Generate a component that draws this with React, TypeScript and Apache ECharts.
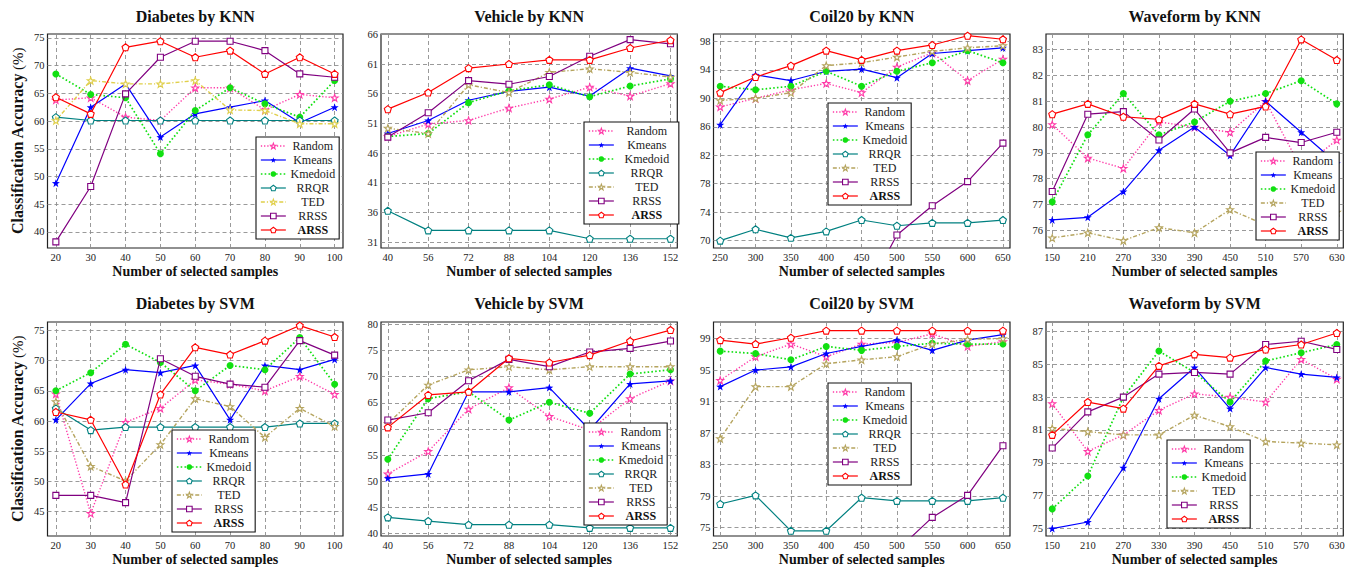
import React, { useEffect, useRef } from 'react';
import * as echarts from 'echarts';

const FONT = '"Liberation Serif", "Times New Roman", serif';

// ---------- categories / ticks ----------
const methods = ['Random', 'Kmeans', 'Kmedoid', 'RRQR', 'TED', 'RRSS', 'ARSS'];
const waveMethods = ['Random', 'Kmeans', 'Kmedoid', 'TED', 'RRSS', 'ARSS'];

const diabetesX = [20, 30, 40, 50, 60, 70, 80, 90, 100];
const vehicleX = [40, 56, 72, 88, 104, 120, 136, 152];
const coilX = [250, 300, 350, 400, 450, 500, 550, 600, 650];
const waveX = [150, 210, 270, 330, 390, 450, 510, 570, 630];

const diabetesKnnYTicks = [40, 45, 50, 55, 60, 65, 70, 75];
const vehicleKnnYTicks = [31, 36, 41, 46, 51, 56, 61, 66];
const coilKnnYTicks = [70, 74, 78, 82, 86, 90, 94, 98];
const waveKnnYTicks = [76, 77, 78, 79, 80, 81, 82, 83];
const diabetesSvmYTicks = [45, 50, 55, 60, 65, 70, 75];
const vehicleSvmYTicks = [40, 45, 50, 55, 60, 65, 70, 75, 80];
const coilSvmYTicks = [75, 79, 83, 87, 91, 95, 99];
const waveSvmYTicks = [75, 77, 79, 81, 83, 85, 87];

// ---------- Diabetes by KNN ----------
const diabetesKnnRandom = [63.8, 64.2, 60.7, 60.1, 66.0, 66.0, 62.0, 64.8, 64.2];
const diabetesKnnKmeans = [48.8, 62.5, 66.7, 57.1, 61.3, 62.5, 63.7, 59.7, 62.5];
const diabetesKnnKmedoid = [68.5, 64.8, 64.2, 54.1, 61.9, 66.0, 63.1, 60.7, 67.3];
const diabetesKnnRRQR = [60.7, 60.1, 60.1, 60.1, 60.1, 60.1, 60.1, 60.1, 60.1];
const diabetesKnnTED = [60.1, 67.3, 66.7, 66.7, 67.3, 62.0, 61.9, 59.5, 59.5];
const diabetesKnnRRSS = [38.2, 48.2, 64.9, 71.5, 74.4, 74.4, 72.7, 68.5, 67.9];
const diabetesKnnARSS = [64.3, 61.3, 73.3, 74.4, 71.5, 72.7, 68.5, 71.5, 68.5];

// ---------- Vehicle by KNN ----------
const vehicleKnnRandom = [48.8, 50.9, 51.5, 53.6, 55.1, 57.1, 55.6, 57.7];
const vehicleKnnKmeans = [49.3, 51.5, 54.9, 56.4, 57.1, 55.6, 60.3, 59.0];
const vehicleKnnKmedoid = [48.8, 49.3, 54.5, 56.5, 57.5, 55.5, 57.3, 58.5];
const vehicleKnnRRQR = [36.3, 33.0, 33.0, 33.0, 33.0, 31.6, 31.6, 31.6];
const vehicleKnnTED = [50.2, 49.3, 57.5, 56.2, 59.6, 60.2, 59.6, 58.8];
const vehicleKnnRRSS = [48.7, 52.8, 58.2, 57.6, 58.9, 62.3, 65.1, 64.4];
const vehicleKnnARSS = [53.4, 56.2, 60.3, 61.0, 61.7, 61.7, 63.7, 65.0];

// ---------- Coil20 by KNN ----------
const coilKnnRandom = [88.8, 90.0, 91.2, 92.1, 90.8, 94.4, 96.4, 92.5, 95.5];
const coilKnnKmeans = [86.3, 93.3, 92.5, 93.8, 94.1, 92.9, 96.3, 96.7, 97.1];
const coilKnnKmedoid = [91.7, 91.2, 91.7, 93.8, 91.7, 93.8, 95.0, 96.7, 95.0];
const coilKnnRRQR = [70.0, 71.6, 70.4, 71.3, 72.9, 72.1, 72.5, 72.5, 72.9];
const coilKnnTED = [89.7, 90.0, 90.8, 94.6, 95.0, 95.8, 96.6, 97.1, 97.4];
const coilKnnRRSS = [40.0, 45.0, 50.0, 55.0, 61.5, 70.8, 74.9, 78.3, 83.7];
const coilKnnARSS = [90.8, 93.0, 94.6, 96.7, 95.4, 96.7, 97.5, 98.8, 98.3];

// ---------- Waveform by KNN ----------
const waveKnnRandom = [80.1, 78.8, 78.4, 80.2, 80.0, 79.8, 81.0, 78.4, 79.5];
const waveKnnKmeans = [76.4, 76.5, 77.5, 79.1, 80.0, 78.9, 81.0, 79.8, 78.6];
const waveKnnKmedoid = [77.1, 79.7, 81.3, 79.7, 80.2, 81.0, 81.3, 81.8, 80.9];
const waveKnnTED = [75.7, 75.9, 75.6, 76.1, 75.9, 76.8, 76.2, 76.4, 76.7];
const waveKnnRRSS = [77.5, 80.5, 80.6, 79.5, 80.7, 79.0, 79.6, 79.4, 79.8];
const waveKnnARSS = [80.5, 80.9, 80.4, 80.3, 80.9, 80.5, 80.8, 83.4, 82.6];

// ---------- Diabetes by SVM ----------
const diabetesSvmRandom = [64.5, 44.7, 59.8, 62.1, 66.8, 66.1, 65.0, 67.4, 64.4];
const diabetesSvmKmeans = [60.2, 66.2, 68.5, 68.0, 69.2, 60.2, 69.2, 68.5, 70.2];
const diabetesSvmKmedoid = [65.0, 68.0, 72.7, 69.7, 65.0, 69.2, 68.5, 73.8, 66.1];
const diabetesSvmRRQR = [62.1, 58.5, 59.0, 59.0, 59.0, 59.0, 59.0, 59.6, 59.6];
const diabetesSvmTED = [63.2, 52.5, 50.1, 56.1, 63.7, 62.4, 57.3, 62.1, 59.1];
const diabetesSvmRRSS = [47.7, 47.7, 46.5, 70.3, 67.4, 66.1, 65.6, 73.3, 70.9];
const diabetesSvmARSS = [61.5, 60.2, 49.5, 64.4, 72.2, 71.0, 73.3, 75.8, 73.9];

// ---------- Vehicle by SVM ----------
const vehicleSvmRandom = [51.4, 55.7, 63.8, 67.9, 62.4, 59.8, 65.8, 69.2];
const vehicleSvmKmeans = [50.6, 51.4, 67.1, 67.1, 67.9, 59.8, 68.6, 69.2];
const vehicleSvmKmedoid = [54.2, 65.8, 67.1, 61.7, 65.1, 63.0, 70.5, 71.3];
const vehicleSvmRRQR = [43.1, 42.4, 41.7, 41.7, 41.7, 41.1, 41.1, 41.1];
const vehicleSvmTED = [61.0, 68.4, 71.3, 71.9, 71.3, 71.9, 71.9, 71.9];
const vehicleSvmRRSS = [61.7, 63.1, 69.2, 73.3, 71.9, 74.7, 75.4, 76.8];
const vehicleSvmARSS = [60.3, 66.5, 67.1, 73.5, 72.7, 74.1, 76.8, 78.9];

// ---------- Coil20 by SVM ----------
const coilSvmRandom = [93.7, 96.7, 98.3, 96.7, 98.3, 98.5, 99.6, 98.0, 98.6];
const coilSvmKmeans = [92.9, 95.0, 95.4, 97.1, 98.0, 98.8, 97.5, 98.8, 99.5];
const coilSvmKmedoid = [97.4, 97.1, 96.3, 98.0, 97.5, 98.0, 98.4, 98.3, 98.3];
const coilSvmRRQR = [78.0, 79.1, 74.6, 74.6, 78.8, 78.4, 78.4, 78.4, 78.8];
const coilSvmTED = [86.3, 92.9, 92.9, 95.8, 96.3, 96.7, 98.3, 98.9, 99.0];
const coilSvmRRSS = [55.0, 60.0, 64.0, 68.0, 70.0, 72.1, 76.3, 79.1, 85.4];
const coilSvmARSS = [98.8, 98.3, 99.1, 100.0, 100.0, 100.0, 100.0, 100.0, 100.0];

// ---------- Waveform by SVM ----------
const waveSvmRandom = [82.6, 79.7, 80.7, 82.2, 83.2, 83.0, 82.7, 85.3, 84.1];
const waveSvmKmeans = [75.0, 75.4, 78.7, 82.9, 84.8, 82.3, 84.8, 84.4, 84.2];
const waveSvmKmedoid = [76.2, 78.2, 83.0, 85.8, 84.5, 82.7, 85.2, 85.7, 86.2];
const waveSvmTED = [81.1, 80.9, 80.7, 80.7, 81.9, 81.2, 80.3, 80.2, 80.1];
const waveSvmRRSS = [79.9, 82.1, 83.0, 84.4, 84.5, 84.4, 86.2, 86.4, 85.9];
const waveSvmARSS = [80.7, 82.7, 82.3, 84.9, 85.6, 85.4, 85.9, 86.2, 86.9];

// ---------- styles ----------
const STAR = 'path://M0,-10L2.35,-3.24L9.51,-3.09L3.8,1.24L5.88,8.09L0,4L-5.88,8.09L-3.8,1.24L-9.51,-3.09L-2.35,-3.24Z';
const PENT = 'path://M0,-10L9.51,-3.09L5.88,8.09L-5.88,8.09L-9.51,-3.09Z';

const TED_YELLOW = '#e0cf4a';
const TED_OLIVE = '#b5a45e';

const styleOf: Record<string, any> = {
  Random: { color: '#ff3aa8', type: [1.3, 1.9], width: 1.4, symbol: STAR, size: 7, hollow: true },
  Kmeans: { color: '#0000ff', type: 'solid', width: 1.2, symbol: STAR, size: 8, hollow: false },
  Kmedoid: { color: '#11e011', type: [1.6, 2.2], width: 1.7, symbol: 'circle', size: 7, hollow: false },
  RRQR: { color: '#008080', type: 'solid', width: 1.2, symbol: PENT, size: 7, hollow: true },
  TED: { color: TED_OLIVE, type: [4, 2, 1.2, 2], width: 1.4, symbol: STAR, size: 7, hollow: true },
  RRSS: { color: '#800080', type: 'solid', width: 1.2, symbol: 'rect', size: 6, hollow: true },
  ARSS: { color: '#ff0000', type: 'solid', width: 1.2, symbol: PENT, size: 7, hollow: true },
};

const panels = [
  { title: 'Diabetes by KNN', xs: diabetesX, names: methods, ys: [diabetesKnnRandom, diabetesKnnKmeans, diabetesKnnKmedoid, diabetesKnnRRQR, diabetesKnnTED, diabetesKnnRRSS, diabetesKnnARSS], yTicks: diabetesKnnYTicks, xMin: 17.6, xMax: 102.4, yMin: 37.1, yMax: 75.7, col: 0, row: 0, legend: [256, 137], lw: 44, ted: TED_YELLOW },
  { title: 'Vehicle by KNN', xs: vehicleX, names: methods, ys: [vehicleKnnRandom, vehicleKnnKmeans, vehicleKnnKmedoid, vehicleKnnRRQR, vehicleKnnTED, vehicleKnnRRSS, vehicleKnnARSS], yTicks: vehicleKnnYTicks, xMin: 37.3, xMax: 154.7, yMin: 30.04, yMax: 66.05, col: 1, row: 0, legend: [584, 122], lw: 56, ted: TED_OLIVE },
  { title: 'Coil20 by KNN', xs: coilX, names: methods, ys: [coilKnnRandom, coilKnnKmeans, coilKnnKmedoid, coilKnnRRQR, coilKnnTED, coilKnnRRSS, coilKnnARSS], yTicks: coilKnnYTicks, xMin: 240.5, xMax: 660, yMin: 68.97, yMax: 99.04, col: 2, row: 0, legend: [828, 103], lw: 44, ted: TED_OLIVE },
  { title: 'Waveform by KNN', xs: waveX, names: waveMethods, ys: [waveKnnRandom, waveKnnKmeans, waveKnnKmedoid, waveKnnTED, waveKnnRRSS, waveKnnARSS], yTicks: waveKnnYTicks, xMin: 139.5, xMax: 641, yMin: 75.31, yMax: 83.61, col: 3, row: 0, legend: [1256, 152], lw: 44, ted: TED_OLIVE },
  { title: 'Diabetes by SVM', xs: diabetesX, names: methods, ys: [diabetesSvmRandom, diabetesSvmKmeans, diabetesSvmKmedoid, diabetesSvmRRQR, diabetesSvmTED, diabetesSvmRRSS, diabetesSvmARSS], yTicks: diabetesSvmYTicks, xMin: 17.6, xMax: 102.4, yMin: 40.97, yMax: 76.39, col: 0, row: 1, legend: [172, 430], lw: 44, ted: TED_OLIVE },
  { title: 'Vehicle by SVM', xs: vehicleX, names: methods, ys: [vehicleSvmRandom, vehicleSvmKmeans, vehicleSvmKmedoid, vehicleSvmRRQR, vehicleSvmTED, vehicleSvmRRSS, vehicleSvmARSS], yTicks: vehicleSvmYTicks, xMin: 37.3, xMax: 154.7, yMin: 39.54, yMax: 80.44, col: 1, row: 1, legend: [584, 423], lw: 44, ted: TED_OLIVE },
  { title: 'Coil20 by SVM', xs: coilX, names: methods, ys: [coilSvmRandom, coilSvmKmeans, coilSvmKmedoid, coilSvmRRQR, coilSvmTED, coilSvmRRSS, coilSvmARSS], yTicks: coilSvmYTicks, xMin: 240.5, xMax: 660, yMin: 73.94, yMax: 101.1, col: 2, row: 1, legend: [828, 383], lw: 44, ted: TED_OLIVE },
  { title: 'Waveform by SVM', xs: waveX, names: waveMethods, ys: [waveSvmRandom, waveSvmKmeans, waveSvmKmedoid, waveSvmTED, waveSvmRRSS, waveSvmARSS], yTicks: waveSvmYTicks, xMin: 139.5, xMax: 641, yMin: 74.55, yMax: 87.57, col: 3, row: 1, legend: [1167, 440], lw: 44, ted: TED_OLIVE },
];

const cols = [[47.5, 295.5], [381, 296.3], [713.5, 296.5], [1046, 297.3]];
const rows = [34, 322];
const H = 214;

function buildOption(): any {
  const grid = panels.map((p) => ({
    left: cols[p.col][0], width: cols[p.col][1], top: rows[p.row], height: H,
    show: true, borderColor: '#222', borderWidth: 1.2, backgroundColor: 'transparent',
    containLabel: false, outerBoundsMode: 'none',
  }));
  const splitLine = { show: true, lineStyle: { color: '#8f8f8f', type: [4, 3], width: 0.9 } };
  const xAxis = panels.map((p, i) => ({
    type: 'value', gridIndex: i, min: p.xMin, max: p.xMax,
    axisLine: { show: false },
    axisTick: { show: false, customValues: p.xs },
    axisLabel: { customValues: p.xs, fontFamily: FONT, fontSize: 10.5, color: '#222', margin: 4 },
    splitLine,
    name: 'Number of selected samples', nameLocation: 'middle', nameGap: 16,
    nameTextStyle: { fontFamily: FONT, fontSize: 14, fontWeight: 'bold', color: '#111' },
  }));
  const yAxis = panels.map((p, i) => ({
    type: 'value', gridIndex: i, min: p.yMin, max: p.yMax,
    axisLine: { show: false },
    axisTick: { show: false, customValues: p.yTicks },
    axisLabel: { customValues: p.yTicks, fontFamily: FONT, fontSize: 10.5, color: '#222', margin: 3 },
    splitLine,
    name: p.col === 0 ? '{b|Classification Accuracy} {n|(%)}' : '',
    nameLocation: 'middle', nameGap: 22,
    nameTextStyle: {
      fontFamily: FONT, color: '#111',
      rich: {
        b: { fontFamily: FONT, fontSize: 16, fontWeight: 'bold', color: '#111' },
        n: { fontFamily: FONT, fontSize: 15, color: '#111' },
      },
    },
  }));
  const series: any[] = [];
  panels.forEach((p, i) => {
    p.names.forEach((name, k) => {
      const s = styleOf[name];
      const color = name === 'TED' ? p.ted : s.color;
      series.push({
        type: 'line', name, xAxisIndex: i, yAxisIndex: i,
        data: p.xs.map((x, j) => [x, p.ys[k][j]]),
        symbol: s.symbol, symbolSize: s.size, showSymbol: true,
        lineStyle: { color, width: s.width, type: s.type },
        itemStyle: { color: s.hollow ? '#ffffff' : color, borderColor: color, borderWidth: s.hollow ? 1.1 : 0 },
        emphasis: { disabled: true }, silent: true, clip: true, z: 2 + k * 0.01,
      });
    });
  });
  const legend = panels.map((p) => ({
    orient: 'vertical', left: p.legend[0], top: p.legend[1],
    data: p.names.map((n) => {
      const s = styleOf[n];
      const c = n === 'TED' ? p.ted : s.color;
      return {
        name: n,
        itemStyle: { color: s.hollow ? '#ffffff' : c, borderColor: c, borderWidth: s.hollow ? 1.1 : 0 },
        lineStyle: { color: c, width: s.width, type: s.type },
      };
    }),
    itemWidth: 25, itemHeight: 7, itemGap: 2, padding: [3, 4, 3, 4],
    borderColor: '#111', borderWidth: 1.1, borderRadius: 0, backgroundColor: '#fff',
    selectedMode: false, z: 10,
    formatter: (n: string) => (n === 'ARSS' ? '{b|' + n + '}' : '{n|' + n + '}'),
    textStyle: {
      fontFamily: FONT, fontSize: 12, color: '#222',
      rich: {
        n: { fontFamily: FONT, fontSize: 12, color: '#222', width: p.lw, align: 'center', lineHeight: 12 },
        b: { fontFamily: FONT, fontSize: 12, color: '#111', fontWeight: 'bold', width: p.lw, align: 'center', lineHeight: 12 },
      },
    },
  }));
  const graphic = panels.map((p) => ({
    type: 'text', silent: true,
    x: cols[p.col][0] + cols[p.col][1] / 2, y: p.row === 0 ? 16 : 303,
    style: { text: p.title, font: 'bold 16px ' + FONT, fill: '#111', align: 'center', verticalAlign: 'middle' },
  }));
  return { animation: false, backgroundColor: '#fff', grid, xAxis, yAxis, series, legend, graphic };
}

export default function App() {
  const ref = useRef<HTMLDivElement>(null);
  useEffect(() => {
    const chart = echarts.init(ref.current!, null, { renderer: 'svg' });
    chart.setOption(buildOption());
    return () => chart.dispose();
  }, []);
  return <div ref={ref} style={{ position: 'fixed', left: 0, top: 0, width: 1357, height: 569, background: '#fff' }} />;
}
